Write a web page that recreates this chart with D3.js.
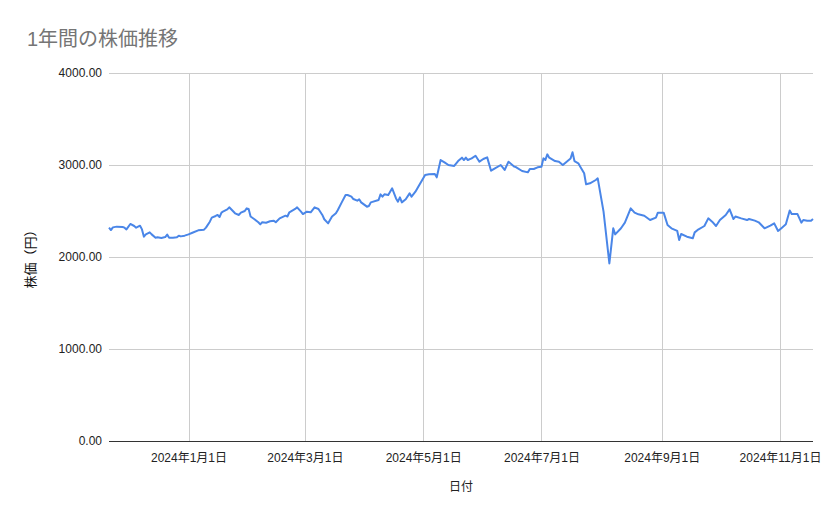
<!DOCTYPE html>
<html lang="ja">
<head>
  <meta charset="UTF-8" />
  <title>1年間の株価推移</title>
  <script src="https://d3js.org/d3.v7.min.js"></script>
  <style>
    body {
      margin: 0;
      background: #fff;
      font-family: "Liberation Sans", Arial, "Noto Sans CJK JP", sans-serif;
    }
    svg { display: block; }
  </style>
</head>
<body>
  <div id="chart"></div>

  <script>
    // 日付と株価
    const dates = [
      "2023-11-21","2023-11-22","2023-11-23","2023-11-25","2023-11-28","2023-11-29","2023-11-30",
      "2023-12-02","2023-12-04","2023-12-05","2023-12-07","2023-12-08","2023-12-09","2023-12-10",
      "2023-12-12","2023-12-13","2023-12-15","2023-12-16","2023-12-18","2023-12-20","2023-12-21",
      "2023-12-22","2023-12-24","2023-12-26","2023-12-27","2023-12-28","2023-12-30",
      "2024-01-01","2024-01-03","2024-01-06","2024-01-09","2024-01-10","2024-01-12","2024-01-13",
      "2024-01-15","2024-01-16","2024-01-17","2024-01-18","2024-01-19","2024-01-21","2024-01-22",
      "2024-01-25","2024-01-27","2024-01-28","2024-01-30","2024-01-31",
      "2024-02-01","2024-02-02","2024-02-04","2024-02-06","2024-02-07","2024-02-08","2024-02-10",
      "2024-02-12","2024-02-14","2024-02-15","2024-02-17","2024-02-20","2024-02-21","2024-02-22",
      "2024-02-25","2024-02-26","2024-02-28","2024-02-29",
      "2024-03-02","2024-03-04","2024-03-06","2024-03-08","2024-03-10","2024-03-11","2024-03-13",
      "2024-03-15","2024-03-17","2024-03-18","2024-03-20","2024-03-22","2024-03-23","2024-03-25",
      "2024-03-26","2024-03-28","2024-03-29","2024-03-30",
      "2024-04-02","2024-04-03","2024-04-04","2024-04-08","2024-04-09","2024-04-10","2024-04-11",
      "2024-04-13","2024-04-15","2024-04-17","2024-04-18","2024-04-19","2024-04-20","2024-04-22",
      "2024-04-24","2024-04-25","2024-04-27","2024-04-29",
      "2024-05-02","2024-05-04","2024-05-07","2024-05-08","2024-05-10","2024-05-12","2024-05-14",
      "2024-05-17","2024-05-19","2024-05-21","2024-05-22","2024-05-23","2024-05-24","2024-05-26",
      "2024-05-28","2024-05-30",
      "2024-06-01","2024-06-03","2024-06-05","2024-06-07","2024-06-10","2024-06-12","2024-06-14",
      "2024-06-17","2024-06-18","2024-06-21","2024-06-24","2024-06-25","2024-06-27","2024-06-29",
      "2024-07-01","2024-07-02","2024-07-03","2024-07-04","2024-07-05","2024-07-08","2024-07-10",
      "2024-07-12","2024-07-14","2024-07-16","2024-07-17","2024-07-18","2024-07-20","2024-07-21",
      "2024-07-23","2024-07-24","2024-07-26","2024-07-29","2024-07-30",
      "2024-08-02","2024-08-05","2024-08-07","2024-08-08","2024-08-11","2024-08-13","2024-08-16",
      "2024-08-18","2024-08-20","2024-08-23","2024-08-26","2024-08-29","2024-08-30",
      "2024-09-02","2024-09-04","2024-09-06","2024-09-09","2024-09-10","2024-09-11","2024-09-14",
      "2024-09-17","2024-09-18","2024-09-20","2024-09-23","2024-09-25","2024-09-27","2024-09-29",
      "2024-10-01","2024-10-04","2024-10-06","2024-10-08","2024-10-09","2024-10-12","2024-10-15",
      "2024-10-16","2024-10-19","2024-10-21","2024-10-24","2024-10-27","2024-10-29","2024-10-31",
      "2024-11-02","2024-11-04","2024-11-06","2024-11-07","2024-11-10","2024-11-12","2024-11-13",
      "2024-11-15","2024-11-17","2024-11-18"
    ];

    const prices = [
      2320,2293,2322,2330,2326,2319,2300,
      2359,2337,2319,2340,2300,2221,2246,
      2268,2246,2210,2214,2207,2217,2243,
      2210,2210,2214,2232,2224,2232,
      2246,2264,2290,2297,2319,2384,2428,
      2446,2457,2435,2482,2497,2518,2540,
      2475,2457,2482,2500,2529,
      2522,2440,2410,2377,2355,2377,2373,
      2388,2395,2377,2420,2449,2440,2486,
      2522,2540,2493,2467,
      2493,2486,2540,2522,2457,2410,2366,
      2440,2475,2511,2594,2674,2674,2656,
      2630,2612,2627,2594,
      2547,2554,2594,2620,2681,2656,2681,
      2674,2746,2637,2601,2648,2594,2627,
      2692,2656,2710,2783,
      2891,2899,2902,2866,3054,3029,3000,
      2990,3043,3080,3054,3080,3054,3072,
      3101,3036,
      3065,3083,2938,2964,3000,2946,3036,
      2982,2975,2935,2920,2957,2957,2975,
      2982,3072,3054,3116,3080,3043,3036,
      3000,3036,3070,3138,3043,3018,2982,
      2910,2790,2801,2837,2855,
      2493,1930,2312,2246,2312,2373,2529,
      2482,2464,2449,2402,2428,2482,
      2482,2348,2312,2283,2185,2250,2221,
      2203,2268,2301,2337,2420,2384,2337,
      2402,2457,2518,2413,2440,2420,2402,
      2413,2395,2377,2312,2341,2366,2283,
      2319,2355,2505,2467,2467,2373,2402,
      2395,2395,2413
    ];

    const yTicks = [0, 1000, 2000, 3000, 4000];
    const xTickDates = ["2024-01-01","2024-03-01","2024-05-01","2024-07-01","2024-09-01","2024-11-01"];

    const W = 839, H = 519;
    const margin = { top: 73, right: 26, bottom: 78, left: 109 };
    const width = W - margin.left - margin.right;
    const height = H - margin.top - margin.bottom;

    const parse = d3.timeParse("%Y-%m-%d");
    const data = dates.map((d, i) => ({ date: parse(d), value: prices[i] }));

    const svg = d3.select("#chart")
      .append("svg")
      .attr("width", W)
      .attr("height", H);

    // タイトル
    svg.append("text")
      .attr("x", 27)
      .attr("y", 46)
      .attr("fill", "#757575")
      .style("font-size", "20px")
      .text("1年間の株価推移");

    const g = svg.append("g")
      .attr("transform", `translate(${margin.left},${margin.top})`);

    const x = d3.scaleTime()
      .domain(d3.extent(data, d => d.date))
      .range([0, width]);

    const y = d3.scaleLinear()
      .domain([0, 4000])
      .range([height, 0]);

    // グリッド（横）
    g.append("g")
      .selectAll("line")
      .data(yTicks.filter(t => t > 0))
      .join("line")
      .attr("x1", 0)
      .attr("x2", width)
      .attr("y1", d => Math.round(y(d)) + 0.5)
      .attr("y2", d => Math.round(y(d)) + 0.5)
      .attr("stroke", "#cccccc");

    // グリッド（縦）
    g.append("g")
      .selectAll("line")
      .data(xTickDates.map(parse))
      .join("line")
      .attr("x1", d => Math.round(x(d)) + 0.5)
      .attr("x2", d => Math.round(x(d)) + 0.5)
      .attr("y1", 0)
      .attr("y2", height)
      .attr("stroke", "#cccccc");

    // Y軸ラベル
    const yAxis = g.append("g")
      .call(d3.axisLeft(y).tickValues(yTicks).tickFormat(d3.format(".2f")).tickSize(0).tickPadding(7));
    yAxis.select(".domain").remove();
    yAxis.selectAll("text")
      .attr("fill", "#222")
      .style("font-size", "12px")
      .style("font-family", "'Liberation Sans', Arial, sans-serif");

    // X軸ラベル
    const fmt = d3.timeFormat("%Y年%-m月%-d日");
    const xAxis = g.append("g")
      .attr("transform", `translate(0,${height})`)
      .call(d3.axisBottom(x).tickValues(xTickDates.map(parse)).tickFormat(fmt).tickSize(0).tickPadding(12));
    xAxis.select(".domain").remove();
    xAxis.selectAll("text")
      .attr("fill", "#222")
      .style("font-size", "12px")
      .style("font-family", "'Liberation Sans', Arial, 'Noto Sans CJK JP', sans-serif");

    // 折れ線
    const line = d3.line()
      .x(d => x(d.date))
      .y(d => y(d.value));

    g.append("path")
      .datum(data)
      .attr("fill", "none")
      .attr("stroke", "#4a86e8")
      .attr("stroke-width", 2)
      .attr("stroke-linejoin", "round")
      .attr("d", line);

    // ベースライン
    g.append("line")
      .attr("x1", 0)
      .attr("x2", width)
      .attr("y1", Math.round(y(0)) + 0.5)
      .attr("y2", Math.round(y(0)) + 0.5)
      .attr("stroke", "#333");

    // 軸タイトル
    svg.append("text")
      .attr("x", margin.left + width / 2)
      .attr("y", 491)
      .attr("text-anchor", "middle")
      .attr("fill", "#222")
      .style("font-size", "12px")
      .text("日付");

    svg.append("text")
      .attr("transform", `translate(35,${margin.top + height / 2 - 1}) rotate(-90)`)
      .attr("text-anchor", "middle")
      .attr("fill", "#111")
      .style("font-size", "13px")
      .text("株価（円）");
  </script>
</body>
</html>
